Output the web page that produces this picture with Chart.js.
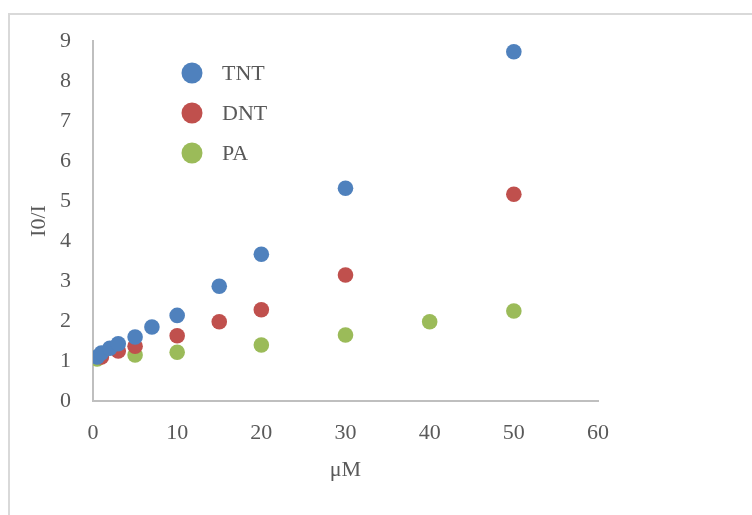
<!DOCTYPE html>
<html>
<head>
<meta charset="utf-8">
<script src="https://cdn.jsdelivr.net/npm/chart.js@4/dist/chart.umd.min.js"></script>
<style>
  html, body { margin: 0; padding: 0; background: #fff; overflow: hidden; }
  #wrap { position: relative; width: 752px; height: 515px; }
  #frame { position: absolute; left: 8px; top: 13px; width: 800px; height: 600px; border: 2px solid #d9d9d9; box-sizing: border-box; }
  canvas { position: absolute; left: 0; top: 0; }
</style>
</head>
<body>
<div id="wrap">
  <div id="frame"></div>
  <canvas id="scatterChart" width="752" height="515"></canvas>
</div>
<script>
// data
const tntX = [0.5, 1, 2, 3, 5, 7, 10, 15, 20, 30, 50];
const tntY = [1.1, 1.2, 1.32, 1.43, 1.6, 1.85, 2.14, 2.87, 3.67, 5.32, 8.73];
const dntX = [1, 3, 5, 10, 15, 20, 30, 50];
const dntY = [1.1, 1.25, 1.37, 1.63, 1.98, 2.28, 3.15, 5.17];
const paX = [0.5, 5, 10, 20, 30, 40, 50];
const paY = [1.05, 1.15, 1.22, 1.4, 1.65, 1.98, 2.25];
const seriesNames = ["TNT", "DNT", "PA"];
const seriesColors = ["#4F81BD", "#C0504D", "#9BBB59"];

const toPoints = (xs, ys) => xs.map((x, i) => ({ x: x, y: ys[i] }));
const serif = "'Liberation Serif', 'Times New Roman', serif";

// legend drawn inside the plot area
const innerLegend = {
  id: "innerLegend",
  afterDraw(chart) {
    const c = chart.ctx;
    c.save();
    seriesNames.forEach((name, i) => {
      const y = 73 + i * 40;
      c.beginPath();
      c.arc(192, y, 10.5, 0, Math.PI * 2);
      c.fillStyle = seriesColors[i];
      c.fill();
      c.font = "22px " + serif;
      c.fillStyle = "#595959";
      c.textBaseline = "middle";
      c.fillText(name, 222, y + 1);
    });
    c.restore();
  },
};

const ctx = document.getElementById("scatterChart").getContext("2d");
new Chart(ctx, {
  type: "scatter",
  data: {
    datasets: [
      { label: seriesNames[0], data: toPoints(tntX, tntY), backgroundColor: seriesColors[0] },
      { label: seriesNames[1], data: toPoints(dntX, dntY), backgroundColor: seriesColors[1] },
      { label: seriesNames[2], data: toPoints(paX, paY), backgroundColor: seriesColors[2] },
    ],
  },
  options: {
    responsive: false,
    animation: false,
    layout: { padding: { top: 41, right: 154, bottom: 0, left: 0 } },
    elements: { point: { radius: 7.8, borderWidth: 0, hoverRadius: 7.8 } },
    plugins: {
      legend: { display: false },
      tooltip: { enabled: false },
    },
    scales: {
      x: {
        type: "linear",
        min: 0,
        max: 60,
        grid: { display: false },
        border: { display: true, color: "#bfbfbf", width: 2 },
        ticks: { stepSize: 10, color: "#595959", font: { family: serif, size: 22 }, padding: 11 },
        title: { display: true, text: "μM", color: "#595959", font: { family: serif, size: 22 }, padding: { top: 0, bottom: 32 } },
        afterFit: (scale) => { scale.height = 114; },
      },
      y: {
        min: 0,
        max: 9,
        grid: { display: false },
        border: { display: true, color: "#bfbfbf", width: 2 },
        ticks: { stepSize: 1, color: "#595959", font: { family: serif, size: 22 }, padding: 14 },
        title: { display: true, text: "I0/I", color: "#595959", font: { family: serif, size: 22 }, padding: { top: 26, bottom: 0 } },
        afterFit: (scale) => { scale.width = 93; },
      },
    },
  },
  plugins: [innerLegend],
});
</script>
</body>
</html>
